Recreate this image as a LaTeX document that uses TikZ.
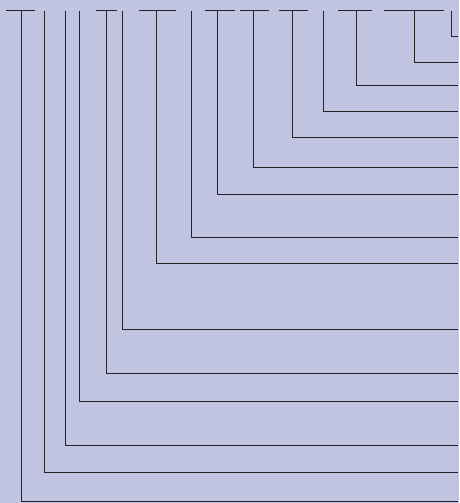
\documentclass[tikz,border=0pt]{standalone}
\definecolor{bg}{RGB}{192,196,224}
\definecolor{ln}{RGB}{34,34,40}
\tikzset{
  link/.style={draw=ln, line width=1pt},
  topbar/.style={draw=ln, line width=1pt},
}
\begin{document}
\begin{tikzpicture}[x=1pt,y=-1pt]
\fill[bg] (0,0) rectangle (459,503);
\useasboundingbox (0,0) rectangle (459,503);
\def\ytop{10.7}
\def\rx{458}
% top bars (horizontal dashes)
\foreach \a/\b [count=\i] in {6/34.7, 96/116.7, 139.3/176, 205/235, 240/269, 279/308, 338.3/372.3, 384/444}{
  \coordinate (bl\i) at (\a,\ytop);
  \coordinate (br\i) at (\b,\ytop);
  \draw[topbar] (bl\i) -- (br\i);
}
% elbows: vertical from top, then horizontal to right edge
\foreach \x/\y [count=\i] in {451/36.5, 414/63, 356.7/85, 323/111, 292.3/137.7, 253/167.7, 217.3/194, 191/237.7, 156.7/263.7, 122.7/329, 106/373.7, 79/401.7, 65.7/445.3, 44.3/472.7, 21/501}{
  \coordinate (t\i) at (\x,\ytop);
  \coordinate (c\i) at (\x,\y);
  \coordinate (e\i) at (\rx,\y);
  \draw[link] (t\i) -- (c\i) -- (e\i);
}
\end{tikzpicture}
\end{document}
